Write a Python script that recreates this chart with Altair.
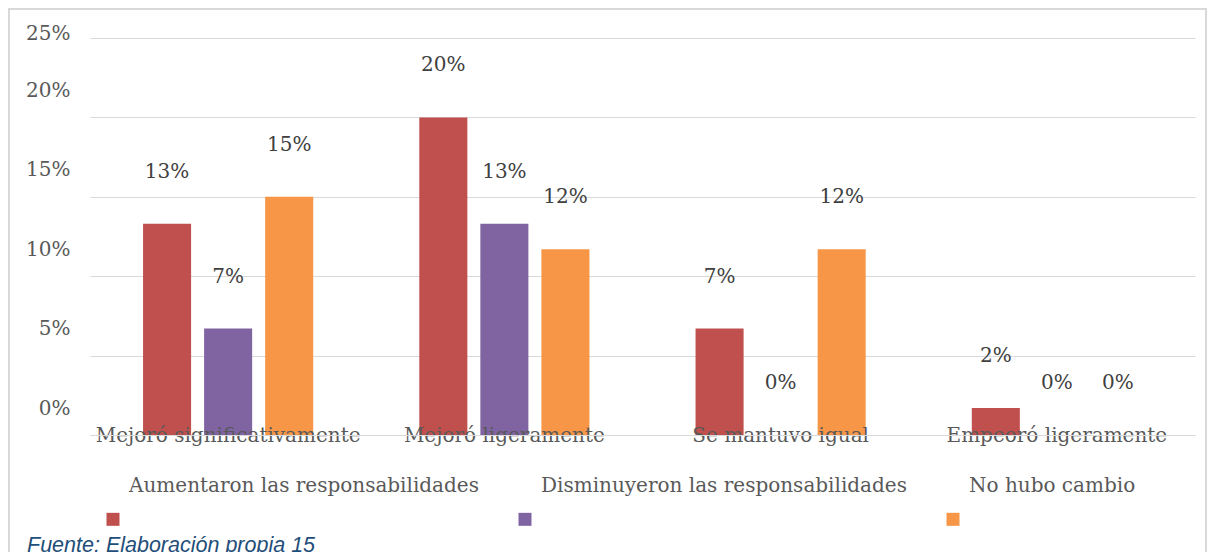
import altair as alt
import pandas as pd

categories = ["Mejoró significativamente", "Mejoró ligeramente", "Se mantuvo igual", "Empeoró ligeramente"]
series = ["Aumentaron las responsabilidades", "Disminuyeron las responsabilidades", "No hubo cambio"]
aumentaron = [0.133, 0.200, 0.067, 0.017]
disminuyeron = [0.067, 0.133, 0.0, 0.0]
no_cambio = [0.150, 0.117, 0.117, 0.0]
colors = ["#C0504D", "#8064A2", "#F79646"]
y_ticks = [0, 0.05, 0.10, 0.15, 0.20, 0.25]
caption = "Fuente: Elaboración propia 15"

rows = []
for s, vals in zip(series, [aumentaron, disminuyeron, no_cambio]):
    for c, v in zip(categories, vals):
        rows.append({"categoria": c, "serie": s, "valor": v})
df = pd.DataFrame(rows)

SERIF = "DejaVu Serif"
FS = 20
# legend square drawn below its label (Excel-style wrapped legend)
SQUARE_BELOW = "M-1,4.1L1,4.1L1,6.1L-1,6.1Z"

x_enc = alt.X("categoria:N", sort=categories, title=None,
              scale=alt.Scale(paddingInner=0, paddingOuter=0),
              axis=alt.Axis(labelAngle=0, labelFont=SERIF, labelFontSize=FS, labelColor="#595959",
                            labelBaseline="middle", labelPadding=0, ticks=False,
                            domainColor="#D9D9D9", domainWidth=1, zindex=1, labelLimit=400))
xoff = alt.XOffset("serie:N", sort=series,
                   scale=alt.Scale(paddingInner=0.213, paddingOuter=0.869))
y_enc = alt.Y("valor:Q", title=None,
              scale=alt.Scale(domain=[0, 0.25], nice=False),
              axis=alt.Axis(values=y_ticks, format=".0%", domain=False, ticks=False,
                            labelFont=SERIF, labelFontSize=FS, labelColor="#595959",
                            labelPadding=20, gridColor="#D9D9D9", gridWidth=1,
                            labelOffset={"condition": {"test": "datum.value >= 0.25", "value": -5}, "value": -27}))

base = alt.Chart(df)

bars = base.mark_bar().encode(
    x=x_enc, xOffset=xoff, y=y_enc,
    color=alt.Color("serie:N", sort=series, scale=alt.Scale(domain=series, range=colors),
                    legend=alt.Legend(orient="none", legendX=13, legendY=438, direction="horizontal",
                                      title=None, symbolType=SQUARE_BELOW, symbolSize=169,
                                      symbolStrokeWidth=0, labelFont=SERIF, labelFontSize=FS,
                                      labelColor="#595959", labelOffset=6, columnPadding=36,
                                      labelLimit=600, padding=0)),
)

labels = base.mark_text(font=SERIF, fontSize=FS, color="#404040", baseline="middle", dy=-52).encode(
    x=alt.X("categoria:N", sort=categories), xOffset=alt.XOffset("serie:N", sort=series),
    y="valor:Q", text=alt.Text("valor:Q", format=".0%"),
)

single = alt.Data(values=[{}])

border = alt.Chart(single).mark_rect(fill=None, stroke="#D9D9D9", strokeWidth=2).encode(
    x=alt.value(-81), x2=alt.value(1116), y=alt.value(-29), y2=alt.value(640)
)

source_note = alt.Chart(single).mark_text(
    font="Liberation Sans", fontStyle="italic", fontSize=21.5, color="#1F4E79",
    align="left", baseline="alphabetic",
).encode(x=alt.value(-63), y=alt.value(514), text=alt.value(caption))

chart = alt.layer(border, bars, labels, source_note).properties(
    width=1105, height=397,
    autosize=alt.AutoSizeParams(type="none"),
    padding={"left": 82, "top": 30, "right": 12, "bottom": 117},
).configure_view(stroke=None)

chart.save("out.html", embed_options={"renderer": "svg", "actions": False})
